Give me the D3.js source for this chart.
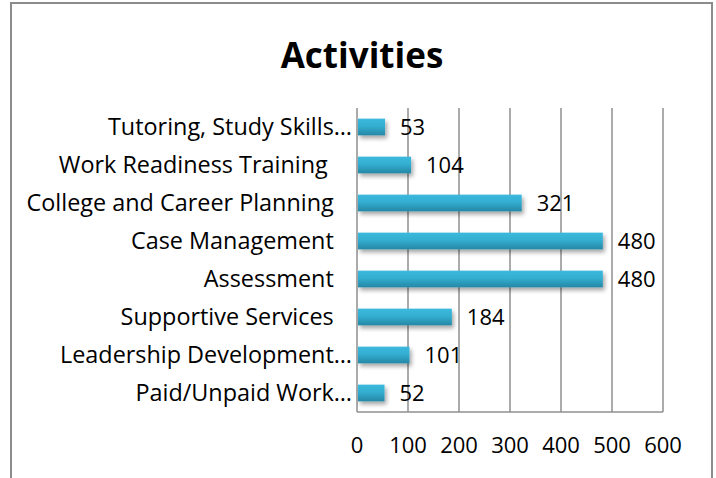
<!DOCTYPE html>
<html>
<head>
<meta charset="utf-8">
<script src="https://cdn.jsdelivr.net/npm/d3@7"></script>
<style>
  html, body { margin: 0; padding: 0; background: #fff; }
  svg text { font-family: "Open Sans", Lato, sans-serif; }
</style>
</head>
<body>
<svg id="chart" width="716" height="478"></svg>
<script>

var categories = [
  "Tutoring, Study Skills\u2026",
  "Work Readiness Training\u00a0\u00a0\u00a0\u00a0",
  "College and Career Planning\u00a0\u00a0\u00a0",
  "Case Management\u00a0\u00a0\u00a0",
  "Assessment\u00a0\u00a0\u00a0",
  "Supportive Services\u00a0\u00a0\u00a0",
  "Leadership Development\u2026",
  "Paid/Unpaid Work\u2026"
];
var values = [53, 104, 321, 480, 480, 184, 101, 52];
var tickValues = [0, 100, 200, 300, 400, 500, 600];

var svg = d3.select("#chart");

// outer frame
svg.append("rect")
  .attr("x", 11).attr("y", 3)
  .attr("width", 701).attr("height", 480)
  .attr("fill", "#fff")
  .attr("stroke", "#8c8c8c")
  .attr("stroke-width", 2);

svg.append("text")
  .attr("x", 362).attr("y", 68)
  .attr("text-anchor", "middle")
  .style("font-size", "35px")
  .style("font-weight", "bold")
  .text("Activities");

var x = d3.scaleLinear().domain([0, 600]).range([357, 663]);
var y = d3.scaleBand().domain(categories).range([108, 412]).paddingInner(0.56).paddingOuter(0.28);

var defs = svg.append("defs");
var grad = defs.append("linearGradient")
  .attr("id", "barGrad").attr("x1", 0).attr("y1", 0).attr("x2", 0).attr("y2", 1);
grad.append("stop").attr("offset", "0%").attr("stop-color", "#3bb9dc");
grad.append("stop").attr("offset", "45%").attr("stop-color", "#33aed1");
grad.append("stop").attr("offset", "100%").attr("stop-color", "#2687a4");

var shadow = defs.append("filter").attr("id", "shadow")
  .attr("x", "-10%").attr("y", "-30%").attr("width", "130%").attr("height", "190%");
shadow.append("feDropShadow")
  .attr("dx", 2).attr("dy", 3).attr("stdDeviation", 2)
  .attr("flood-color", "#000").attr("flood-opacity", 0.35);

// gridlines
svg.append("g").selectAll("line")
  .data(tickValues)
.enter().append("line")
  .attr("x1", function(d) { return x(d); })
  .attr("x2", function(d) { return x(d); })
  .attr("y1", 108).attr("y2", 412)
  .attr("stroke", "#8f8f8f")
  .attr("stroke-width", 1.5);

svg.append("line")
  .attr("x1", x(0)).attr("x2", x(600))
  .attr("y1", 412).attr("y2", 412)
  .attr("stroke", "#8f8f8f")
  .attr("stroke-width", 1.5);

// tick labels
svg.append("g").selectAll("text")
  .data(tickValues)
.enter().append("text")
  .attr("x", function(d) { return x(d); })
  .attr("y", 453)
  .attr("text-anchor", "middle")
  .style("font-size", "22px")
  .text(function(d) { return d; });

// category labels
svg.append("g").selectAll("text")
  .data(categories)
.enter().append("text")
  .attr("x", 352)
  .attr("y", function(d) { return y(d) + y.bandwidth() / 2 + 8; })
  .attr("text-anchor", "end")
  .style("font-size", "23.4px")
  .text(function(d) { return d; });

// bars
svg.append("g").selectAll("rect")
  .data(values)
.enter().append("rect")
  .attr("x", x(0) + 1)
  .attr("y", function(d, i) { return y(categories[i]); })
  .attr("width", function(d) { return x(d) - x(0); })
  .attr("height", y.bandwidth())
  .attr("fill", "url(#barGrad)")
  .attr("filter", "url(#shadow)");

// value labels
svg.append("g").selectAll("text")
  .data(values)
.enter().append("text")
  .attr("x", function(d) { return x(d) + 16; })
  .attr("y", function(d, i) { return y(categories[i]) + y.bandwidth() / 2 + 8; })
  .style("font-size", "22px")
  .text(function(d) { return d; });

</script>
</body>
</html>
